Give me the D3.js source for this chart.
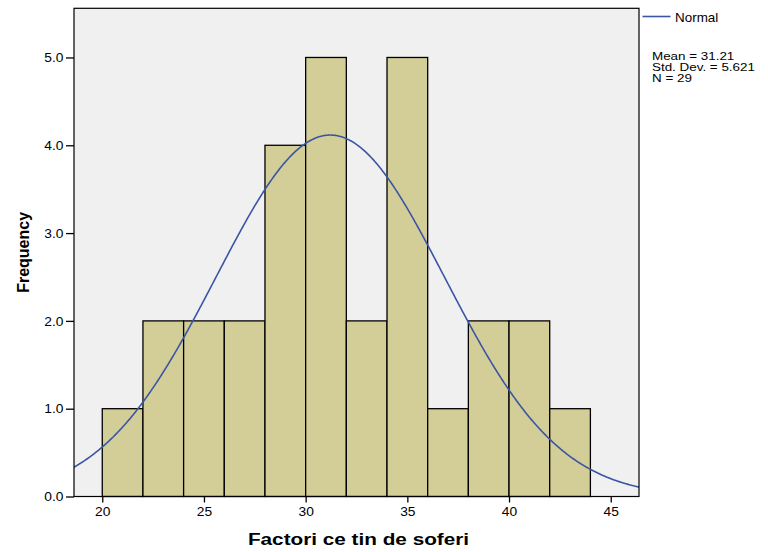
<!DOCTYPE html>
<html>
<head>
<meta charset="utf-8">
<script src="https://cdn.jsdelivr.net/npm/d3@7"></script>
<style>
  html, body { margin: 0; padding: 0; background: #fff; }
  svg { display: block; font-family: "Liberation Sans", Arial, sans-serif; }
</style>
</head>
<body>
<script>
// histogram data
const binStarts = [20, 22, 24, 26, 28, 30, 32, 34, 36, 38, 40, 42];
const binWidth = 2;
const frequencies = [1, 2, 2, 2, 4, 5, 2, 5, 1, 2, 2, 1];
const xTicks = [20, 25, 30, 35, 40, 45];
const yTicks = [0, 1, 2, 3, 4, 5];

// legend statistics
const statMean = 31.21;
const statSd = 5.621;
const statN = 29;
const statLines = ["Mean = 31.21", "Std. Dev. = 5.621", "N = 29"];

const width = 768, height = 552;
const plot = { left: 74, right: 639, top: 8.3, bottom: 496.5 };
const stretch = 1.15; // SPSS text looks a bit wide

const svg = d3.select("body").append("svg")
    .attr("width", width)
    .attr("height", height);

const x = d3.scaleLinear().domain([18.61, 46.39]).range([plot.left, plot.right]);
const y = d3.scaleLinear().domain([0, 5.56]).range([plot.bottom, plot.top]);

// plot background
svg.append("rect")
    .attr("x", plot.left).attr("y", plot.top)
    .attr("width", plot.right - plot.left).attr("height", plot.bottom - plot.top)
    .attr("fill", "#f0f0f0");

svg.append("clipPath").attr("id", "clip")
    .append("rect")
    .attr("x", plot.left).attr("y", plot.top)
    .attr("width", plot.right - plot.left).attr("height", plot.bottom - plot.top);

// bars
svg.append("g").selectAll("rect").data(binStarts).join("rect")
    .attr("x", d => x(d))
    .attr("y", (d, i) => y(frequencies[i]))
    .attr("width", d => x(d + binWidth) - x(d))
    .attr("height", (d, i) => y(0) - y(frequencies[i]))
    .attr("fill", "#d3ce97")
    .attr("stroke", "#000")
    .attr("stroke-width", 1.3);

// normal curve from mean / sd / N
const curveX = d3.range(x.domain()[0], x.domain()[1] + 0.05, 0.05);
const density = v => statN * binWidth / (statSd * Math.sqrt(2 * Math.PI)) *
    Math.exp(-0.5 * Math.pow((v - statMean) / statSd, 2));
svg.append("path")
    .datum(curveX)
    .attr("clip-path", "url(#clip)")
    .attr("fill", "none")
    .attr("stroke", "#3b55a5")
    .attr("stroke-width", 1.6)
    .attr("d", d3.line().x(d => x(d)).y(d => y(density(d))));

// frame
svg.append("rect")
    .attr("x", plot.left).attr("y", plot.top)
    .attr("width", plot.right - plot.left).attr("height", plot.bottom - plot.top)
    .attr("fill", "none")
    .attr("stroke", "#000")
    .attr("stroke-width", 1.2);

// y axis
const yAxis = svg.append("g")
    .attr("transform", `translate(${plot.left},0)`)
    .call(d3.axisLeft(y).tickValues(yTicks).tickFormat(d3.format(".1f")).tickSize(8).tickSizeOuter(0));
yAxis.select(".domain").remove();
yAxis.selectAll("line").attr("stroke", "#000").attr("stroke-width", 1.3);
yAxis.selectAll("text")
    .attr("x", -10.5 / stretch)
    .attr("dy", "0.35em")
    .attr("transform", `scale(${stretch},1)`)
    .attr("font-family", "Liberation Sans, Arial, sans-serif")
    .attr("font-size", 12)
    .attr("fill", "#000");

// x axis
const xAxis = svg.append("g")
    .attr("transform", `translate(0,${plot.bottom})`)
    .call(d3.axisBottom(x).tickValues(xTicks).tickSize(6).tickSizeOuter(0));
xAxis.select(".domain").remove();
xAxis.selectAll("line").attr("stroke", "#000").attr("stroke-width", 1.3);
xAxis.selectAll("text")
    .attr("x", 0)
    .attr("y", 19.5)
    .attr("dy", 0)
    .attr("transform", `scale(${stretch},1)`)
    .attr("font-family", "Liberation Sans, Arial, sans-serif")
    .attr("font-size", 12)
    .attr("fill", "#000");

// axis titles
svg.append("text")
    .attr("transform", `translate(${(plot.left + plot.right) / 2 + 2},545) scale(1.22,1)`)
    .attr("text-anchor", "middle")
    .attr("font-size", 17)
    .attr("font-weight", "bold")
    .text("Factori ce tin de soferi");

svg.append("text")
    .attr("transform", `translate(29,${(plot.top + plot.bottom) / 2}) rotate(-90)`)
    .attr("text-anchor", "middle")
    .attr("font-size", 16)
    .attr("font-weight", "bold")
    .text("Frequency");

// legend
svg.append("line")
    .attr("x1", 642.5).attr("x2", 670.5)
    .attr("y1", 16.5).attr("y2", 16.5)
    .attr("stroke", "#3b55a5")
    .attr("stroke-width", 1.6);
svg.append("text")
    .attr("transform", `translate(675,21.5) scale(1.12,1)`)
    .attr("font-size", 12)
    .text("Normal");

svg.append("g").selectAll("text").data(statLines).join("text")
    .attr("transform", (d, i) => `translate(652,${59.5 + i * 11.4}) scale(1.22,1)`)
    .attr("font-size", 11)
    .text(d => d);
</script>
</body>
</html>
